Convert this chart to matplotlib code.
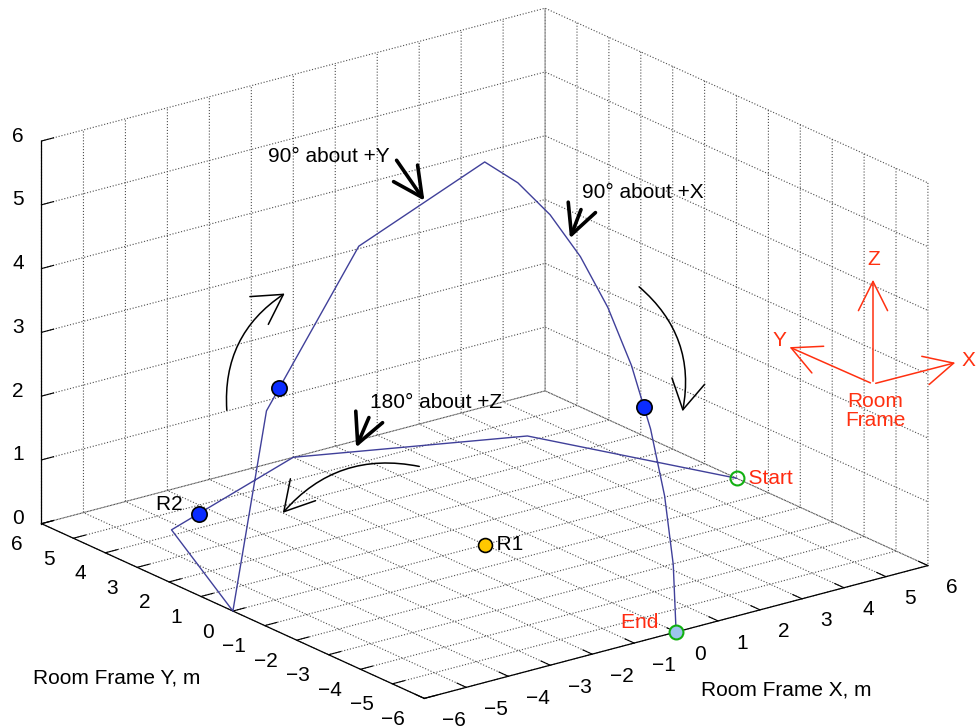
import numpy as np
import matplotlib
matplotlib.use("Agg")
import matplotlib.pyplot as plt

plt.rcParams.update({
    "font.family": ["Liberation Sans", "DejaVu Sans"],
    "font.size": 15,
    "grid.color": "0.3",
    "grid.linestyle": ":",
    "grid.linewidth": 0.8,
})

W, H = 977, 727

# sensor path (room frame, m): 180 deg about +Z, then 90 deg about +Y, then 90 deg about +X
path_x = [6.00, 4.24, 0.00, -4.24, -6.00, -5.20, -3.00, 0.00,
          0.00, 0.00, 0.00, 0.00, 0.00, 0.00, 0.00, 0.00, 0.00]
path_y = [0.00, 4.24, 6.00, 4.24, 0.00, 0.00, 0.00, 0.00,
          -1.04, -2.05, -3.00, -3.86, -4.60, -5.20, -5.64, -5.91, -6.00]
path_z = [0.00, 0.00, 0.00, 0.00, 0.00, 3.00, 5.20, 6.00,
          5.91, 5.64, 5.20, 4.60, 3.86, 3.00, 2.05, 1.04, 0.00]

# receivers / marked points
blue_x = [-4.90, 0.00, -3.30]
blue_y = [0.00, -5.00, 4.60]
blue_z = [3.30, 3.30, 0.00]
r1 = (0.0, 0.0, 0.0)
r2 = (-3.30, 4.60, 0.0)
start_pt = (6.0, 0.0, 0.0)
end_pt = (0.0, -6.0, 0.0)

x_ticks = [-6, -5, -4, -3, -2, -1, 0, 1, 2, 3, 4, 5, 6]
y_ticks = [-6, -5, -4, -3, -2, -1, 0, 1, 2, 3, 4, 5, 6]
z_ticks = [0, 1, 2, 3, 4, 5, 6]


def fpos(px, py):
    # image pixel (top-left origin) -> figure fraction
    return (px / W, 1 - py / H)


def tick_str(v):
    return f"{v}".replace("-", "\u2212")


fig = plt.figure(figsize=(W / 100, H / 100), dpi=100)
side_w, side_h = 1.0, W / H
cx, cy = fpos(471.5, 366.5)
ax = fig.add_axes([cx - side_w / 2, cy - side_h / 2, side_w, side_h], projection="3d")
ax.set_proj_type("ortho")
ax.view_init(elev=20.3, azim=-127.24)
ax.set_box_aspect((1, 1, 0.645), zoom=0.977)
ax.computed_zorder = False

ax.set_xlim(-6, 6)
ax.set_ylim(-6, 6)
ax.set_zlim(0, 6)
ax.set_xticks(x_ticks)
ax.set_yticks(y_ticks)
ax.set_zticks(z_ticks)

for axis in (ax.xaxis, ax.yaxis, ax.zaxis):
    axis.set_pane_color((1, 1, 1, 1))
    axis.pane.set_edgecolor("none")
    axis.line.set_color("black")
    axis.line.set_linewidth(0.9)
    axis._axinfo["tick"]["inward_factor"] = 0.0
    axis._axinfo["tick"]["outward_factor"] = 0.3
    axis._axinfo["grid"]["linestyle"] = ":"
    axis._axinfo["grid"]["color"] = "0.3"
    axis._axinfo["grid"]["linewidth"] = 0.8
    # MATLAB-like tick labels are placed by hand below
    for t in axis.get_major_ticks():
        t.label1.set_visible(False)
        t.label2.set_visible(False)
    axis.label.set_visible(False)

# x labels left-aligned, y and z labels right-aligned (as MATLAB does)
for v in x_ticks:
    ax.text(v, -6.567, -0.217, tick_str(v), ha="left", va="center", fontsize=15)
for v in y_ticks:
    ax.text(-6.452, v, -0.251, tick_str(v), ha="right", va="center", fontsize=15)
for v in z_ticks:
    ax.text(-6.0, 6.557, v - 0.049, tick_str(v), ha="right", va="center", fontsize=15)

ax.plot(path_x, path_y, path_z, color="#40409a", lw=1.0, zorder=3)
ax.plot(blue_x, blue_y, blue_z, "o", ms=11, mfc="#0a2cff", mec="black", mew=1.2, zorder=5)
ax.plot([r1[0]], [r1[1]], [r1[2]], "o", ms=10, mfc="#ffc800", mec="black", mew=1.2, zorder=5)
ax.plot([start_pt[0]], [start_pt[1]], [start_pt[2]], "o", ms=10, mfc="none",
        mec="#11b011", mew=1.5, zorder=5)
ax.plot([end_pt[0]], [end_pt[1]], [end_pt[2]], "o", ms=10, mfc="#9cc4ee",
        mec="#11b011", mew=1.5, zorder=5)

ax.text(*r1, "  R1", ha="left", va="center", fontsize=15)
ax.text(*r2, "R2   ", ha="right", va="bottom", fontsize=15)
ax.text(*start_pt, "  Start", ha="left", va="center", fontsize=15, color="#ff2a10")
ax.text(*end_pt, "End   ", ha="right", va="bottom", fontsize=15, color="#ff2a10")

# axis titles (MATLAB keeps them horizontal)
fig.text(*fpos(117, 678), "Room Frame Y, m", ha="center", va="center", fontsize=15)
fig.text(*fpos(786, 690), "Room Frame X, m", ha="center", va="center", fontsize=15)

# rotation annotations
black_arrow = dict(arrowstyle="->,head_length=0.7,head_width=0.35", color="black",
                   lw=2.6, mutation_scale=30)
for label, tail, tip, tpos in [
    ("90° about +Y", (395, 158), (426, 203), (329, 156)),
    ("90° about +X", (582, 207), (569, 241), (643, 192)),
    ("180° about +Z", (370, 415), (355, 450), (436, 403)),
]:
    fig.text(*fpos(*tpos), label, ha="center", va="center", fontsize=15)
    ax.annotate("", xy=fpos(*tip), xytext=fpos(*tail), xycoords="figure fraction",
                textcoords="figure fraction", arrowprops=black_arrow)

thin_arrow = dict(arrowstyle="->,head_length=0.7,head_width=0.4", color="black",
                  lw=1.1, mutation_scale=30)
for tail, tip, rad in [
    ((227, 413), (287, 292), -0.3),
    ((637, 285), (682, 414), -0.3),
    ((422, 467), (281, 515), 0.3),
]:
    ax.annotate("", xy=fpos(*tip), xytext=fpos(*tail), xycoords="figure fraction",
                textcoords="figure fraction",
                arrowprops=dict(thin_arrow, connectionstyle=f"arc3,rad={rad}"))

# room frame triad
red = "#ff3010"
origin = (873, 384)
red_arrow = dict(arrowstyle="->,head_length=0.7,head_width=0.35", color=red, lw=1.1,
                 mutation_scale=30)
for name, tip, lpos in [("Z", (873, 277), (874, 260)),
                        ("Y", (787, 346), (779, 340)),
                        ("X", (958, 362), (968, 361))]:
    ax.annotate("", xy=fpos(*tip), xytext=fpos(*origin), xycoords="figure fraction",
                textcoords="figure fraction", arrowprops=red_arrow)
    fig.text(*fpos(*lpos), name, ha="center", va="center", fontsize=15, color=red)
fig.text(*fpos(875, 411), "Room\nFrame", ha="center", va="center", fontsize=15,
         color=red, linespacing=1.05)

fig.savefig("out.png", dpi=100, facecolor="white")
